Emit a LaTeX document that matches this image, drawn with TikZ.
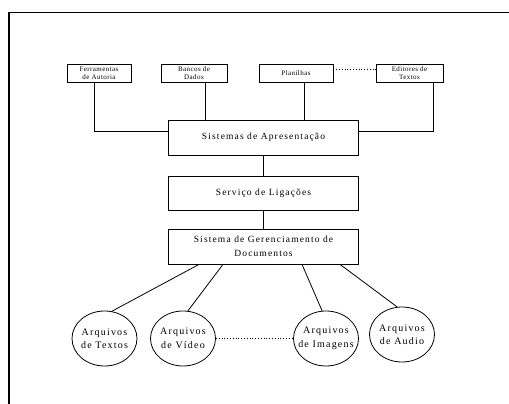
\documentclass[tikz,border=0pt]{standalone}
\usepackage{fontspec}
\setmainfont{Liberation Serif}
\newfontfamily\spaced[LetterSpace=6]{Liberation Serif}
\newfontfamily\wide[LetterSpace=12]{Liberation Serif}
\usetikzlibrary{shapes.geometric}
% two centred lines that take no width, so the ellipse keeps its own size
\newcommand{\twolines}[2]{\makebox[0pt]{#1}\\\makebox[0pt]{#2}}
\begin{document}
\begin{tikzpicture}[x=1pt,y=-1pt,
  tool/.style={draw,line width=0.8pt,inner sep=0pt,minimum height=18pt,align=center,
    font=\spaced\fontsize{7}{8}\selectfont},
  layer/.style={draw,line width=0.8pt,inner sep=0pt,minimum width=190pt,minimum height=35pt,
    align=center,font=\wide\fontsize{9.5}{14}\selectfont},
  store/.style={draw,ellipse,line width=0.8pt,inner sep=0pt,minimum width=65pt,minimum height=55pt,
    align=center,font=\wide\fontsize{10}{13.5}\selectfont},
  link/.style={line width=0.8pt},
  dots/.style={line width=0.8pt,dotted}]
\useasboundingbox (0,0) rectangle (509,404);
% frame
\draw[line width=1.6pt] (9,404) -- (9,12.5) -- (509,12.5);

% application tools
\node[tool,minimum width=64pt] (fa) at (99,73) {Ferramentas\\de Autoria};
\node[tool,minimum width=66pt] (bd) at (194,73) {Bancos de\\Dados};
\node[tool,minimum width=74pt] (pl) at (296,73) {Planilhas};
\node[tool,minimum width=67pt] (ed) at (409.5,73) {Editores de\\Textos};

% layers
\node[layer] (sa) at (263.5,137.5) {Sistemas de Apresentação};
\node[layer,minimum height=34pt] (sl) at (263.5,193) {Serviço de Ligações};
\node[layer] (sg) at (263.5,246.5) {Sistema de Gerenciamento de\\Documentos};

% file stores
\node[store] (at) at (104.5,338.5) {\twolines{Arquivos}{de Textos}};
\node[store] (av) at (183,338.5) {\twolines{Arquivos}{de Vídeo}};
\node[store] (ai) at (326,338.5) {\twolines{Arquivos}{de Imagens}};
\node[store] (aa) at (402,334.5) {\twolines{Arquivos}{de Audio}};

% connectors
\draw[link] (fa.south -| 94,0) |- (sa.west |- 0,131);
\draw[link] (bd.south -| 205,0) -- (sa.north -| 205,0);
\draw[link] (pl.south -| 304,0) -- (sa.north -| 304,0);
\draw[link] (ed.south -| 433,0) |- (sa.east |- 0,131);
\draw[dots] (pl.east |- 0,69.5) -- (ed.west |- 0,69.5);
\draw[link] (sa) -- (sl);
\draw[link] (sl) -- (sg);
\draw[link] (sg.south -| 199,0) -- (at.75);
\draw[link] (sg.south -| 223,0) -- (av.80);
\draw[link] (sg.south -| 302,0) -- (ai.98);
\draw[link] (sg.south -| 340,0) -- (aa.100);
\draw[dots] (av.east) -- (ai.west);
\end{tikzpicture}
\end{document}
